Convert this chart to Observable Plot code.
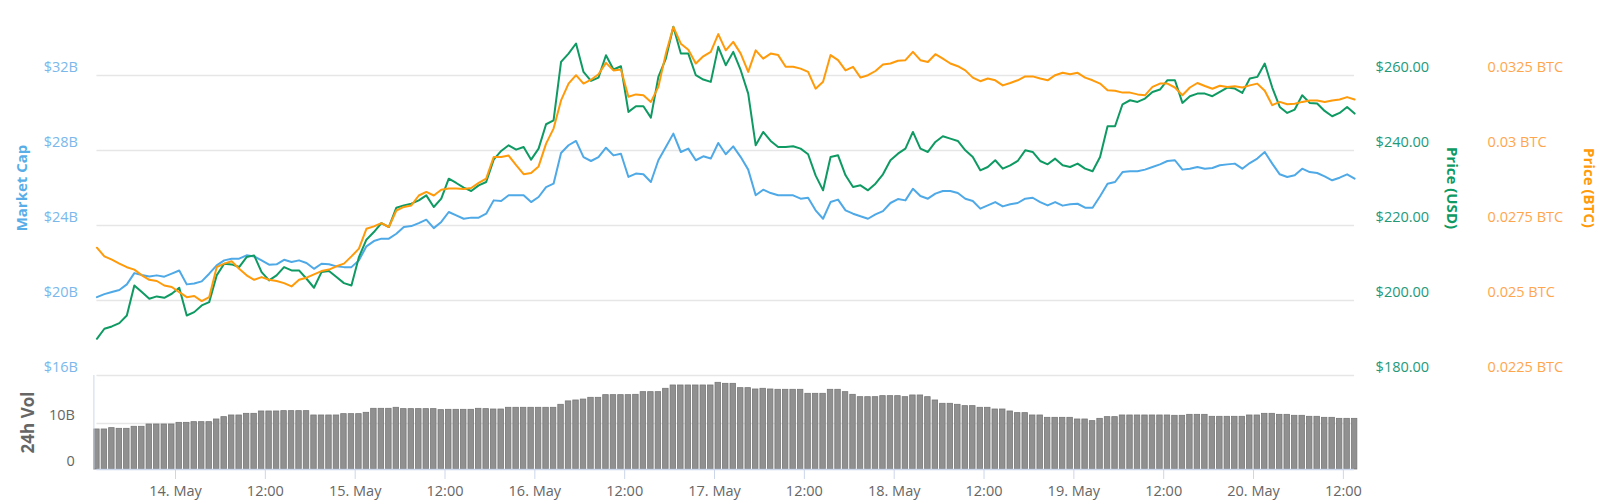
<!DOCTYPE html>
<html><head><meta charset="utf-8">
<script src="https://cdn.jsdelivr.net/npm/d3@7"></script>
<script src="https://cdn.jsdelivr.net/npm/@observablehq/plot@0.6"></script>
<style>
body{margin:0;background:#fff;}
#chart{position:relative;width:1600px;height:500px;font-family:"Open Sans",sans-serif;}
#chart svg{position:absolute;left:0;top:0;}
</style></head><body><div id="chart"></div>
<script>
// Hourly samples, 13 May 2019 13:30 UTC to 20 May 2019 13:30 UTC
const startTime = Date.UTC(2019, 4, 13, 13, 30);

const marketCap = [ // billions USD
20.18,20.34,20.45,20.56,20.86,21.46,21.36,21.28,21.34,21.27,21.43,21.60,20.86,20.91,21.02,21.43,21.87,22.14,22.23,22.23,22.41,22.35,22.14,21.91,21.93,22.17,22.05,22.14,22.00,21.69,21.96,21.93,21.82,21.78,21.78,22.14,22.89,23.17,23.30,23.30,23.56,23.92,23.97,
24.13,24.31,23.86,24.19,24.72,24.54,24.36,24.42,24.42,24.63,25.34,25.31,25.61,25.61,25.61,25.25,25.52,26.05,26.23,27.87,28.28,28.51,27.65,27.44,27.65,28.15,27.74,27.83,26.59,26.77,26.73,26.32,27.48,28.19,28.90,27.92,28.10,27.48,27.69,27.57,28.40,27.80,28.22,
27.65,26.98,25.61,25.91,25.73,25.61,25.61,25.61,25.43,25.48,24.81,24.36,25.25,25.38,24.81,24.63,24.49,24.36,24.59,24.77,25.20,25.41,25.34,25.96,25.57,25.43,25.70,25.84,25.84,25.73,25.43,25.31,24.90,25.07,25.25,25.02,25.13,25.20,25.43,25.48,25.25,25.07,25.25,
25.06,25.13,25.16,24.95,24.95,25.56,26.23,26.32,26.85,26.89,26.89,26.98,27.12,27.26,27.44,27.48,26.98,27.03,27.12,27.03,27.07,27.21,27.26,27.30,27.03,27.33,27.57,27.92,27.30,26.73,26.59,26.68,27.03,26.85,26.80,26.62,26.41,26.55,26.73,26.50
];

const priceUSD = [
189.79,192.46,193.08,193.97,196.01,204.02,202.24,200.46,201.09,200.73,201.80,203.40,196.01,196.90,198.68,199.57,206.69,209.80,209.63,208.92,211.58,212.03,207.58,205.36,206.69,208.92,208.03,208.03,205.80,203.40,207.58,207.85,206.25,204.64,204.02,211.58,216.21,218.26,220.66,219.59,224.75,225.37,225.82,
226.71,228.04,224.93,227.15,232.49,231.34,230.09,229.20,230.71,231.60,237.56,239.88,241.39,240.23,240.94,237.56,240.50,247.00,248.06,263.63,265.85,268.53,260.96,258.56,259.45,265.41,261.59,262.47,250.29,251.80,251.80,248.78,259.63,264.52,272.98,265.85,265.85,260.07,258.92,258.29,267.64,262.74,266.30,
261.41,255.18,241.39,244.95,242.55,240.94,240.94,241.12,240.50,238.99,233.38,229.38,238.28,238.72,233.38,230.27,230.71,229.38,231.16,233.65,237.39,239.16,240.50,244.95,240.50,239.61,242.28,243.79,243.17,242.55,240.05,238.28,234.72,235.61,237.39,235.16,236.05,237.21,240.05,239.61,237.21,236.32,237.83,
236.05,235.61,236.50,235.16,234.45,238.28,246.46,246.46,252.33,253.40,252.96,253.84,255.62,256.25,258.74,258.74,252.69,254.47,255.18,255.18,254.47,255.62,256.78,256.51,255.36,259.18,259.63,263.19,256.78,251.62,250.02,250.91,254.73,252.69,252.51,250.55,249.13,250.02,251.62,249.84
];

const priceBTC = [
0.02676,0.02647,0.02636,0.02623,0.02611,0.02603,0.02584,0.02569,0.02565,0.02550,0.02545,0.02528,0.02511,0.02515,0.02498,0.02511,0.02611,0.02623,0.02631,0.02606,0.02584,0.02569,0.02578,0.02569,0.02565,0.02558,0.02547,0.02569,0.02576,0.02587,0.02598,0.02603,0.02614,0.02623,0.02647,0.02673,0.02739,0.02747,0.02758,0.02745,0.02800,0.02812,0.02817,
0.02850,0.02862,0.02850,0.02869,0.02873,0.02873,0.02872,0.02875,0.02892,0.02906,0.02978,0.02978,0.02983,0.02951,0.02921,0.02925,0.02947,0.03023,0.03073,0.03167,0.03223,0.03251,0.03223,0.03236,0.03254,0.03292,0.03267,0.03270,0.03179,0.03187,0.03184,0.03162,0.03212,0.03323,0.03412,0.03356,0.03336,0.03290,0.03314,0.03329,0.03388,0.03334,0.03362,
0.03323,0.03262,0.03334,0.03306,0.03323,0.03318,0.03279,0.03279,0.03273,0.03262,0.03206,0.03229,0.03318,0.03301,0.03267,0.03279,0.03243,0.03251,0.03265,0.03287,0.03290,0.03299,0.03301,0.03329,0.03301,0.03295,0.03321,0.03306,0.03290,0.03281,0.03267,0.03243,0.03231,0.03240,0.03234,0.03217,0.03225,0.03234,0.03247,0.03247,0.03240,0.03234,0.03251,
0.03259,0.03254,0.03259,0.03243,0.03234,0.03223,0.03201,0.03199,0.03193,0.03193,0.03187,0.03184,0.03212,0.03223,0.03223,0.03210,0.03184,0.03210,0.03225,0.03215,0.03206,0.03216,0.03212,0.03214,0.03210,0.03217,0.03223,0.03199,0.03151,0.03162,0.03154,0.03156,0.03162,0.03167,0.03167,0.03162,0.03167,0.03170,0.03178,0.03170
];

const volume = [ // 24h volume, billions
8.70,8.70,8.99,8.84,8.84,9.28,9.28,9.78,9.78,9.78,9.78,10.14,10.14,10.29,10.29,10.29,10.87,11.38,11.74,11.74,12.10,12.10,12.61,12.61,12.61,12.68,12.68,12.68,12.68,11.74,11.74,11.74,11.74,12.03,12.03,12.03,12.32,13.19,13.19,13.19,13.41,13.12,13.12,13.12,13.12,13.12,12.90,12.97,12.97,12.97,12.97,13.19,13.12,13.04,13.04,13.41,13.41,13.41,13.41,13.41,13.41,13.41,14.06,14.80,15.00,15.20,15.58,15.58,16.16,16.16,16.16,16.16,16.23,16.81,16.81,16.81,17.54,18.26,18.26,18.26,18.26,18.26,18.26,18.84,18.62,18.62,
17.68,17.68,17.39,17.54,17.39,17.32,17.32,17.32,17.32,16.45,16.45,16.45,17.32,17.32,16.81,16.23,15.72,15.72,15.72,15.94,15.94,15.94,15.72,16.09,16.09,15.72,15.00,14.28,14.28,14.06,13.77,13.77,13.41,13.41,13.04,13.04,12.61,12.25,12.25,11.74,11.74,11.23,11.23,11.23,11.23,10.87,10.87,10.51,11.01,11.38,11.38,11.74,11.74,11.74,11.74,11.74,11.74,11.74,11.67,11.67,11.88,11.88,11.88,11.45,11.45,11.45,11.45,11.45,11.74,11.74,12.10,12.10,11.88,11.88,11.67,11.67,11.45,11.45,11.23,11.23,11.01,11.01,11.01
];

const mcTicks = [16, 20, 24, 28, 32];
const usdTicks = [180, 200, 220, 240, 260];
const btcTicks = [0.0225, 0.025, 0.0275, 0.03, 0.0325];
const volTicks = [0, 10];
const monthNames = ["Jan","Feb","Mar","Apr","May","Jun","Jul","Aug","Sep","Oct","Nov","Dec"];

const times = marketCap.map((_, i) => new Date(startTime + i * 3600e3));
const rows = times.map((t, i) => ({t, mc: marketCap[i], usd: priceUSD[i], btc: priceBTC[i], vol: volume[i]}));
const xDomain = [times[0], times[times.length - 1]];

const W = 1600, H = 500, ML = 96.4, MR = 245.9;
const common = {
  width: W, height: H, marginLeft: ML, marginRight: MR,
  style: {fontFamily: '"Open Sans", sans-serif', fontSize: "14.5px", background: "transparent", overflow: "visible", position: "absolute", left: "0px", top: "0px", maxWidth: "none"}
};

const C_MC = "#4ea9e6", C_MC_T = "#7ab8ec";
const C_USD = "#0e9a62", C_USD_T = "#23997a";
const C_BTC = "#ff9a0a", C_BTC_T = "#ffa64d";

// Volume panel + time axis
const plotVol = Plot.plot({
  ...common, marginTop: 375, marginBottom: 31,
  x: {type: "utc", domain: xDomain},
  y: {domain: [0, 20.43]},
  marks: [
    Plot.ruleY(volTicks.filter(d => d > 0), {stroke: "#e6e6e6", strokeWidth: 1.5}),
    Plot.rectY(rows, {x1: d => new Date(+d.t - 22 * 60e3), x2: d => new Date(+d.t + 22 * 60e3), y: "vol", fill: "#909090", stroke: "#777", strokeWidth: 0.8}),
    Plot.ruleY([0], {stroke: "#ccd6eb", strokeWidth: 1.5}),
    Plot.ruleX([xDomain[0]], {stroke: "#ccd6eb", dx: -3}),
    Plot.axisX({ticks: d3.utcHour.every(12), tickFormat: d => d.getUTCHours() === 0 ? `${d.getUTCDate()}. ${monthNames[d.getUTCMonth()]}` : "12:00",
      tickSize: 10, tickPadding: 6, stroke: "#ccd6eb", fill: "#666", label: null}),
    Plot.axisY(volTicks, {anchor: "left", tickSize: 0, tickPadding: 22, dy: -8, tickFormat: d => d === 0 ? "0" : `${d}B`, fill: "#666", label: null}),
    Plot.text(["24h Vol"], {frameAnchor: "left", rotate: -90, dx: -68, textAnchor: "middle", lineAnchor: "middle", fontWeight: "bold", fill: "#666", fontSize: 17})
  ]
});

// Market cap (left axis)
const plotMC = Plot.plot({
  ...common, marginTop: 0, marginBottom: 125,
  x: {type: "utc", domain: xDomain, axis: null},
  y: {domain: [16, 36]},
  marks: [
    Plot.ruleY(mcTicks, {stroke: "#e6e6e6", strokeWidth: 1.5}),
    Plot.lineY(rows, {x: "t", y: "mc", stroke: C_MC, strokeWidth: 2}),
    Plot.axisY(mcTicks, {anchor: "left", tickSize: 0, tickPadding: 19, dy: -8, tickFormat: d => `$${d}B`, fill: C_MC_T, label: null}),
    Plot.text(["Market Cap"], {frameAnchor: "left", rotate: -90, dx: -74.4, textAnchor: "middle", lineAnchor: "middle", fontWeight: "bold", fill: "#5aaee8", fontSize: 15})
  ]
});

// Price USD (right axis)
const plotUSD = Plot.plot({
  ...common, marginTop: 0, marginBottom: 125,
  x: {type: "utc", domain: xDomain, axis: null},
  y: {domain: [180, 280]},
  marks: [
    Plot.lineY(rows, {x: "t", y: "usd", stroke: C_USD, strokeWidth: 2}),
    Plot.axisY(usdTicks, {anchor: "right", tickSize: 0, tickPadding: 21, dy: -8, tickFormat: d => `$${d.toFixed(2)}`, fill: C_USD_T, label: null}),
    Plot.text(["Price (USD)"], {frameAnchor: "right", rotate: 90, dx: 97.4, textAnchor: "middle", lineAnchor: "middle", fontWeight: "bold", fill: C_USD, fontSize: 15})
  ]
});

// Price BTC (far right axis)
const plotBTC = Plot.plot({
  ...common, marginTop: 0, marginBottom: 125,
  x: {type: "utc", domain: xDomain, axis: null},
  y: {domain: [0.0225, 0.035]},
  marks: [
    Plot.lineY(rows, {x: "t", y: "btc", stroke: C_BTC, strokeWidth: 2}),
    Plot.axisY(btcTicks, {anchor: "right", tickSize: 0, tickPadding: 133, dy: -8, tickFormat: d => `${+d.toFixed(4)} BTC`, fill: C_BTC_T, label: null}),
    Plot.text(["Price (BTC)"], {frameAnchor: "right", rotate: 90, dx: 234, textAnchor: "middle", lineAnchor: "middle", fontWeight: "bold", fill: C_BTC, fontSize: 15})
  ]
});

const chart = document.getElementById("chart");
[plotVol, plotMC, plotUSD, plotBTC].forEach(p => chart.appendChild(p));
</script></body></html>
